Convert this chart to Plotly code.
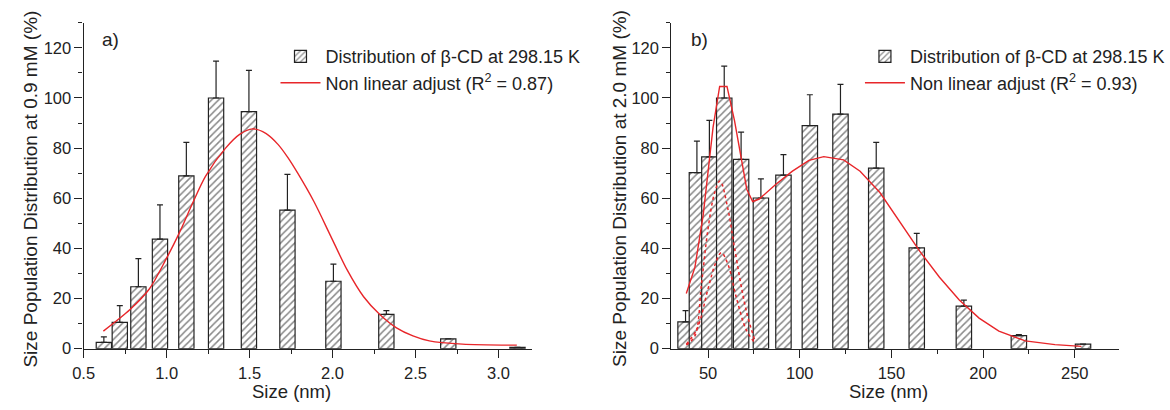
import plotly.graph_objects as go

W, H = 1170, 410
FONT = "Liberation Sans, Arial, sans-serif"

# ---------------- data: panel a ----------------
a_size = [0.622, 0.718, 0.830, 0.960, 1.119, 1.298, 1.496, 1.728, 2.005, 2.324, 2.697, 3.114]
a_pop = [2.5, 10.5, 24.7, 43.7, 68.9, 100.0, 94.6, 55.3, 26.9, 13.7, 3.9, 0.5]
a_err = [2.2, 6.7, 11.2, 13.7, 13.4, 14.7, 16.4, 14.2, 6.8, 1.5, 0.0, 0.0]
a_fit_x = [0.619, 0.778, 0.897, 0.996, 1.076, 1.155, 1.235, 1.354, 1.44, 1.518, 1.60, 1.671,
           1.73, 1.790, 1.889, 1.988, 2.087, 2.187, 2.286, 2.385, 2.484, 2.583, 2.782, 3.11]
a_fit_y = [7.0, 15.5, 23.9, 35.6, 46.1, 57.8, 68.8, 79.9, 85.5, 87.7, 85.8, 81.5,
           76.3, 70.0, 58.5, 45.0, 31.5, 20.7, 13.5, 8.3, 5.1, 3.1, 1.8, 1.4]

# ---------------- data: panel b ----------------
b_size = [37.7, 43.9, 50.7, 58.8, 68.0, 78.8, 91.1, 105.5, 122.2, 141.7, 163.8, 189.5, 219.5, 254.5]
b_pop = [10.7, 70.2, 76.5, 100.0, 75.5, 60.1, 69.2, 89.0, 93.6, 72.0, 40.2, 17.0, 5.2, 1.8]
b_err = [4.5, 12.6, 14.6, 12.7, 10.9, 7.6, 8.2, 12.3, 11.8, 10.3, 5.8, 2.4, 0.4, 0.0]
b_fit_x = [38.1, 42.8, 47.3, 50.0, 52.7, 56.3, 60.3, 64.4, 68.1, 71.1, 74.3, 77.9, 87.0, 96.0,
           105.0, 113.1, 123.9, 132.9, 143.7, 154.5, 165.4, 176.2, 187.0, 197.8, 208.6,
           223.0, 239.2, 253.6]
b_fit_y = [22.0, 32.4, 53.2, 70.1, 88.3, 104.6, 104.6, 91.0, 76.6, 63.6, 58.7, 59.7, 65.6, 70.8,
           75.1, 76.6, 75.3, 70.8, 62.3, 50.6, 38.9, 28.5, 19.4, 12.2, 7.0,
           3.1, 1.6, 0.9]
b_comp1_x = [38.1, 42.8, 46.4, 50.0, 53.6, 56.5, 60.8, 64.4, 70.7, 75.3]
b_comp1_y = [1.5, 5.1, 25.9, 48.0, 62.3, 66.9, 55.8, 40.2, 15.5, 3.7]
b_comp2_x = [38.1, 44.0, 50.0, 54.0, 57.2, 60.8, 65.3, 70.7, 75.3]
b_comp2_y = [1.8, 8.0, 24.0, 34.0, 38.3, 33.7, 20.7, 7.7, 2.5]

a_width = 0.092
b_width = 8.4

RED = "#e8262a"
INK = "#222222"


def bar(x, y, err, width, legend):
    n = len(x)
    return go.Bar(
        x=x, y=y, width=[width] * n,
        name="Distribution of \u03b2-CD at 298.15 K",
        legend=legend,
        marker=dict(color="white",
                    line=dict(color=INK, width=1.2),
                    pattern=dict(shape="/", fgcolor="#111111", bgcolor="white",
                                 size=5, solidity=0.3)),
        error_y=dict(type="data", symmetric=False, array=err, arrayminus=[0] * n,
                     color=INK, thickness=1.2, width=3),
    )


fig = go.Figure()
fig.add_trace(bar(a_size, a_pop, a_err, a_width, "legend"))
fig.add_trace(go.Scatter(x=a_fit_x, y=a_fit_y, mode="lines",
                         line=dict(color=RED, width=1.4, shape="spline", smoothing=0.8),
                         name="Non linear adjust (R<sup>2</sup> = 0.87)", legend="legend"))

tb = bar(b_size, b_pop, b_err, b_width, "legend2")
tb.update(xaxis="x2", yaxis="y2")
fig.add_trace(tb)
fig.add_trace(go.Scatter(x=b_comp1_x, y=b_comp1_y, mode="lines", xaxis="x2", yaxis="y2", showlegend=False,
                         line=dict(color=RED, width=1.5, dash="dot", shape="spline")))
fig.add_trace(go.Scatter(x=b_comp2_x, y=b_comp2_y, mode="lines", xaxis="x2", yaxis="y2", showlegend=False,
                         line=dict(color=RED, width=1.5, dash="dot", shape="spline")))
fig.add_trace(go.Scatter(x=b_fit_x, y=b_fit_y, mode="lines", xaxis="x2", yaxis="y2",
                         line=dict(color=RED, width=1.4),
                         name="Non linear adjust (R<sup>2</sup> = 0.93)", legend="legend2"))


def px(x):
    return x / W


def py(y):
    return 1 - y / H


axis_common = dict(showline=True, linecolor=INK, linewidth=1.3, ticks="outside", ticklen=8,
                   tickwidth=1.2, tickcolor=INK, showgrid=False, zeroline=False, mirror=False,
                   tickfont=dict(family=FONT, size=16.5, color=INK))

fig.update_layout(
    width=W, height=H, margin=dict(l=0, r=0, t=0, b=0),
    paper_bgcolor="white", plot_bgcolor="white",
    barmode="overlay",
    font=dict(family=FONT, color=INK),
    xaxis=dict(domain=[px(73.3), px(525.7)], range=[0.5, 3.2], tick0=0.5, dtick=0.5,
               tickformat=".1f", anchor="y", ticklabelstandoff=1,
               minor=dict(ticks="outside", ticklen=4, tickcolor=INK, dtick=0.25, tick0=0.5),
               **axis_common),
    yaxis=dict(domain=[py(356.5), py(23.3)], range=[0, 130], dtick=20, anchor="x",
               minor=dict(ticks="outside", ticklen=4, tickcolor=INK, dtick=10),
               **axis_common),
    xaxis2=dict(domain=[px(666.7), px(1118.3)], range=[30, 274], tick0=0, dtick=50, anchor="y2",
                ticklabelstandoff=1,
                minor=dict(ticks="outside", ticklen=4, tickcolor=INK, dtick=25, tick0=0),
                **axis_common),
    yaxis2=dict(domain=[py(356.5), py(23.3)], range=[0, 130], dtick=20, anchor="x2",
                minor=dict(ticks="outside", ticklen=4, tickcolor=INK, dtick=10),
                **axis_common),
    legend=dict(x=px(267), y=py(39), xanchor="left", yanchor="top", bgcolor="rgba(0,0,0,0)",
                font=dict(family=FONT, size=18, color=INK), itemwidth=40, tracegroupgap=0),
    legend2=dict(x=px(857), y=py(39), xanchor="left", yanchor="top", bgcolor="rgba(0,0,0,0)",
                 font=dict(family=FONT, size=18, color=INK), itemwidth=40, tracegroupgap=0),
    showlegend=True,
)

ann = [
    dict(text="a)", x=px(100), y=py(40), size=19),
    dict(text="b)", x=px(695), y=py(40), size=19),
    dict(text="Size (nm)", x=px(283), y=py(400), size=18.5),
    dict(text="Size (nm)", x=px(886), y=py(400), size=18.5),
    dict(text="Size Population Distribution at 0.9 mM (%)", x=px(20), y=py(193), textangle=-90, size=19),
    dict(text="Size Population Distribution at 2.0 mM (%)", x=px(615), y=py(193), textangle=-90, size=19),
]
for a in ann:
    size = a.pop("size")
    fig.add_annotation(xref="paper", yref="paper", showarrow=False, xanchor="center", yanchor="middle",
                       font=dict(family=FONT, size=size, color=INK), **a)

fig.write_html("out.html")
